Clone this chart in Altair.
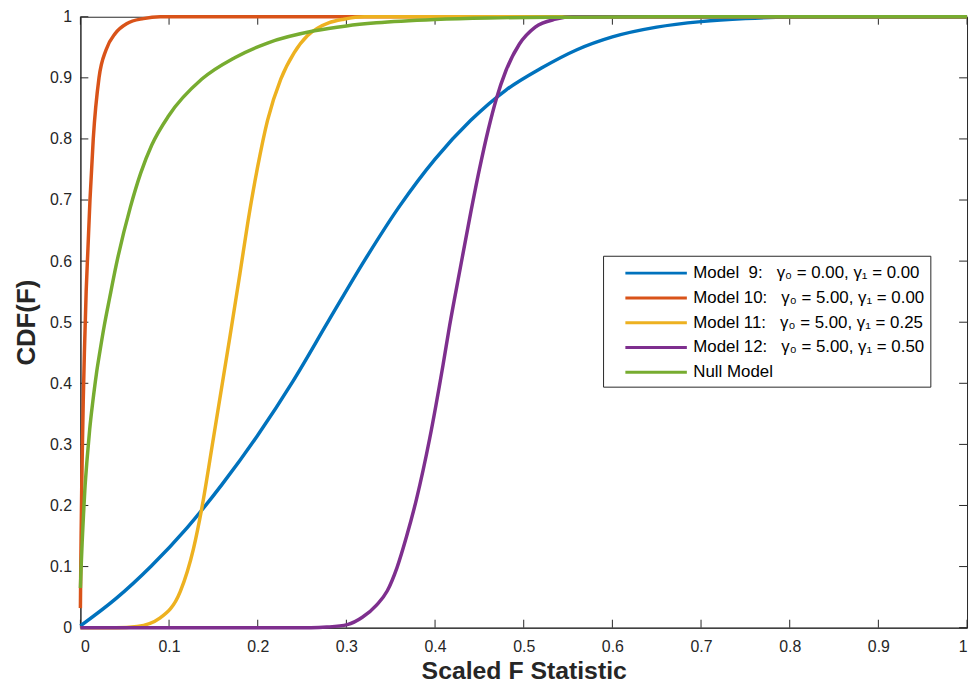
import altair as alt
import pandas as pd

NB = "\u00a0"
series_names = [
    f"Model{NB} 9:{NB}{NB} γ₀ = 0.00, γ₁ = 0.00",
    f"Model 10:{NB}{NB} γ₀ = 5.00, γ₁ = 0.00",
    f"Model 11:{NB}{NB} γ₀ = 5.00, γ₁ = 0.25",
    f"Model 12:{NB}{NB} γ₀ = 5.00, γ₁ = 0.50",
    "Null Model",
]
series_colors = ["#0072BD", "#D95319", "#EDB120", "#7E2F8E", "#77AC30"]

m9_x = [0, 0.04, 0.08, 0.12, 0.16, 0.20, 0.24, 0.28, 0.32, 0.36, 0.40, 0.44, 0.48, 0.52,
        0.56, 0.60, 0.65, 0.70, 0.75, 0.80, 0.85, 1.0]
m9_y = [0.003, 0.0475, 0.101, 0.163, 0.235, 0.315, 0.404, 0.5025, 0.60, 0.69, 0.767, 0.83,
        0.88, 0.916, 0.946, 0.967, 0.983, 0.992, 0.997, 0.9995, 1.0, 1.0]

m10_x = [0, 0.0003, 0.0008, 0.0015, 0.0023, 0.0032, 0.0045, 0.0065, 0.0085, 0.0108, 0.0145, 0.021,
         0.029, 0.0395, 0.0526, 0.071, 0.09, 1.0]
m10_y = [0.032, 0.08, 0.15, 0.23, 0.30, 0.37, 0.45, 0.55, 0.62, 0.70, 0.80, 0.90,
         0.946, 0.973, 0.989, 0.997, 1.0, 1.0]

m11_x = [0.0, 0.04, 0.064, 0.09, 0.1126, 0.1275, 0.137, 0.15, 0.1685, 0.18, 0.189, 0.2, 0.211,
         0.226, 0.241, 0.256, 0.267, 0.28, 0.297, 0.32, 1.0]
m11_y = [0, 0, 0.002, 0.016, 0.059, 0.129, 0.196, 0.31, 0.475, 0.58, 0.665, 0.755, 0.83,
         0.898, 0.941, 0.969, 0.981, 0.99, 0.996, 1.0, 1.0]

m12_x = [0, 0.2, 0.26, 0.278, 0.301, 0.318, 0.334, 0.346, 0.357, 0.368, 0.379, 0.394, 0.409,
         0.4165, 0.428, 0.439, 0.45, 0.46, 0.469, 0.48, 0.495, 0.513, 0.536, 0.555, 1.0]
m12_y = [0, 0, 0, 0.001, 0.005, 0.017, 0.037, 0.06, 0.098, 0.15, 0.21, 0.31, 0.43,
         0.495, 0.585, 0.67, 0.75, 0.815, 0.865, 0.912, 0.955, 0.983, 0.996, 1.0, 1.0]

null_x = [0, 0.0005, 0.001, 0.002, 0.0035, 0.005, 0.0075, 0.0105, 0.014, 0.018, 0.022, 0.027,
          0.033, 0.0406, 0.0563, 0.068, 0.0805, 0.0996, 0.137, 0.174, 0.211, 0.264, 0.30,
          0.334, 0.40, 0.46, 0.55, 0.65, 1.0]
null_y = [0.065, 0.085, 0.105, 0.14, 0.185, 0.225, 0.275, 0.325, 0.37, 0.415, 0.452, 0.495,
          0.54, 0.595, 0.688, 0.744, 0.79, 0.838, 0.898, 0.933, 0.957, 0.977, 0.985,
          0.99, 0.9955, 0.998, 0.9993, 1.0, 1.0]

tick_values = [0, 0.1, 0.2, 0.3, 0.4, 0.5, 0.6, 0.7, 0.8, 0.9, 1.0]

W, H = 894, 616
TICK = 8
AXC = "#262626"

curves = [(m9_x, m9_y), (m10_x, m10_y), (m11_x, m11_y), (m12_x, m12_y), (null_x, null_y)]
rows = []
for name, (xs, ys) in zip(series_names, curves):
    for xv, yv in zip(xs, ys):
        rows.append({"series": name, "x": xv, "y": yv})
df = pd.DataFrame(rows)
ticks_df = pd.DataFrame({"t": tick_values})

color_scale = alt.Scale(domain=series_names, range=series_colors)
xs_scale = alt.Scale(domain=[0, 1], nice=False)
ys_scale = alt.Scale(domain=[0, 1], nice=False)

layers = []
for i, name in enumerate(series_names):
    layer = alt.Chart(df).transform_filter(alt.datum.series == name).mark_line(
        strokeWidth=3.5, interpolate="monotone"
    ).encode(
        x=alt.X("x:Q", scale=xs_scale,
                axis=alt.Axis(values=tick_values, format=".1~f", ticks=False, grid=False,
                              labelPadding=11, title="Scaled F Statistic",
                              titleBaseline="alphabetic", titleY=51, titleFontSize=25)),
        y=alt.Y("y:Q", scale=ys_scale,
                axis=alt.Axis(values=tick_values, format=".1~f", ticks=False, grid=False,
                              labelPadding=9, title="CDF(F)", titlePadding=10)),
        color=alt.Color("series:N", scale=color_scale,
                        legend=alt.Legend(title=None, orient="none", legendX=527, legendY=241,
                                          symbolType="M-3.1,0H3.1", symbolSize=400,
                                          symbolStrokeWidth=3, symbolOffset=36,
                                          labelOffset=26, padding=6, rowPadding=5,
                                          labelFontSize=17, labelFont="Liberation Sans",
                                          labelColor="#000000", labelLimit=500,
                                          strokeColor=AXC, fillColor="#ffffff")),
        order=alt.Order("x:Q"),
    )
    layers.append(layer)

tick_base = alt.Chart(ticks_df).mark_rule(color=AXC, strokeWidth=1)
xt_bottom = tick_base.encode(x=alt.X("t:Q", scale=xs_scale), y=alt.value(H), y2=alt.value(H - TICK))
xt_top = tick_base.encode(x=alt.X("t:Q", scale=xs_scale), y=alt.value(0), y2=alt.value(TICK))
yt_left = tick_base.encode(y=alt.Y("t:Q", scale=ys_scale), x=alt.value(0), x2=alt.value(TICK))
yt_right = tick_base.encode(y=alt.Y("t:Q", scale=ys_scale), x=alt.value(W), x2=alt.value(W - TICK))

chart = alt.layer(xt_bottom, xt_top, yt_left, yt_right, *layers).properties(
    width=W, height=H,
    background="#ffffff",
    autosize=alt.AutoSizeParams(type="none"),
    padding={"left": 73, "top": 6, "right": 4, "bottom": 56},
).configure_view(
    stroke=AXC, strokeWidth=1
).configure_axis(
    domainColor=AXC, domainWidth=1,
    labelColor=AXC, labelFont="Liberation Sans", labelFontSize=16,
    titleColor=AXC, titleFont="Liberation Sans", titleFontSize=26, titleFontWeight="bold",
)

chart.save("out.html", embed_options={"renderer": "svg", "actions": False})
